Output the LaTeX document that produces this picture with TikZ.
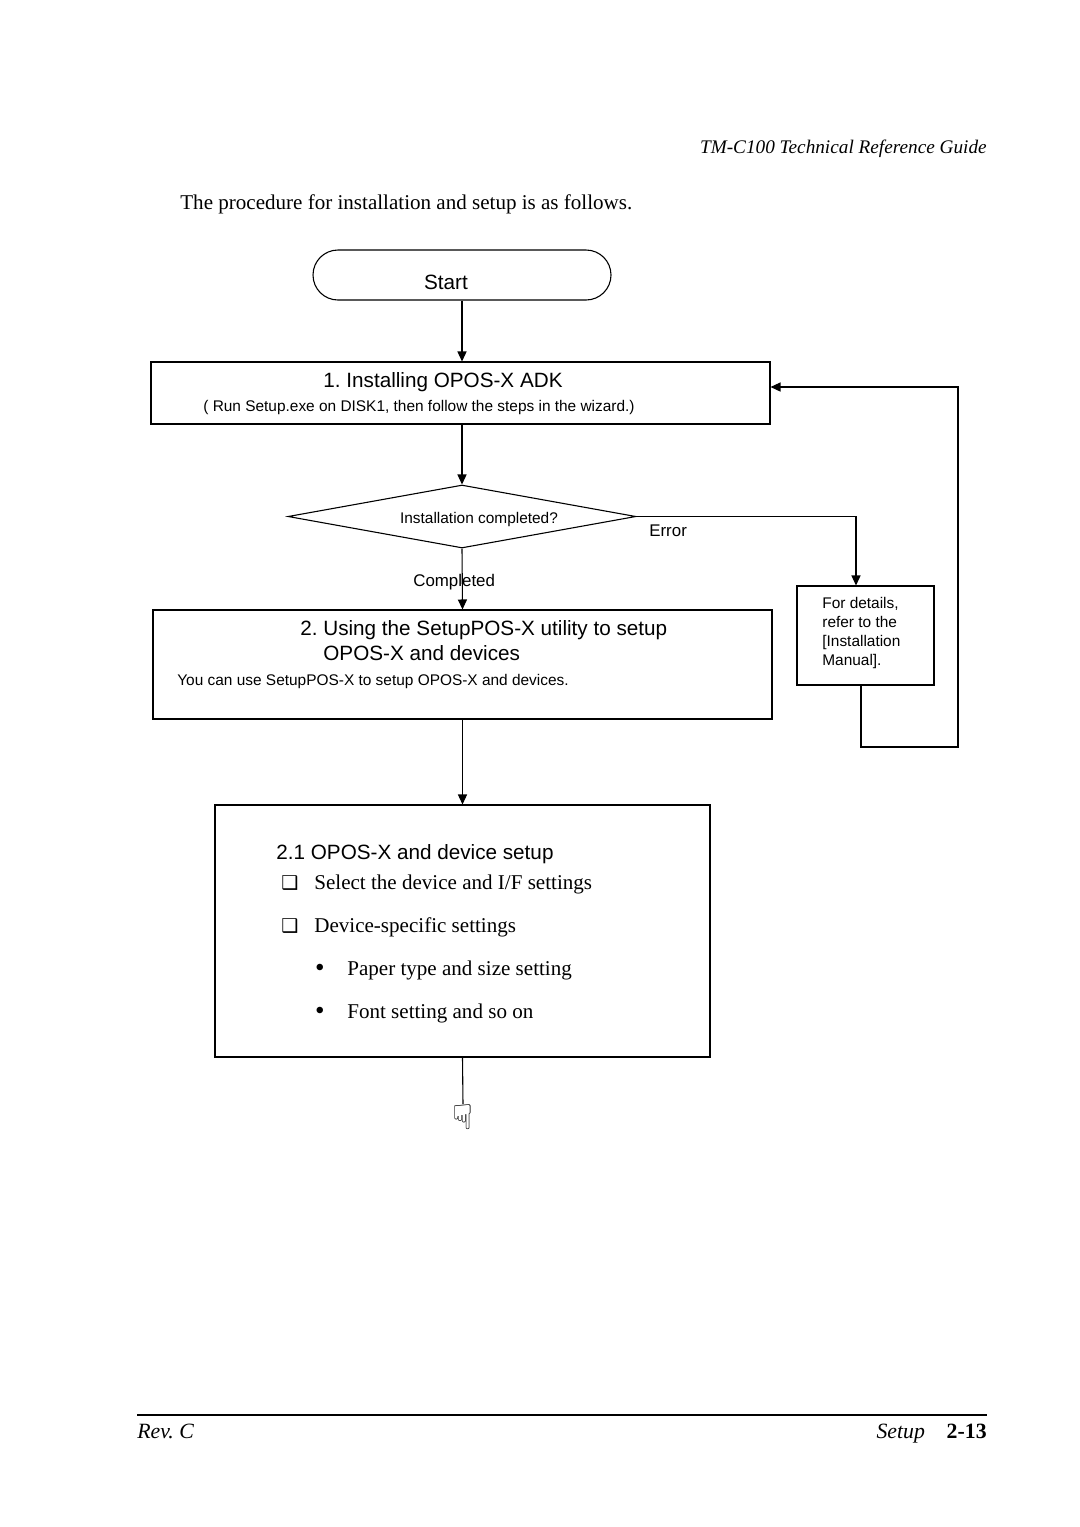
\documentclass[tikz,border=0pt]{standalone}
\usepackage{fontspec}
\setmainfont{Liberation Serif}
\setsansfont{Liberation Sans}
\newfontfamily\dingfont{DejaVu Sans}
\usetikzlibrary{arrows.meta,shapes.geometric,shapes.misc}
\frenchspacing
\newlength\pxu
\setlength\pxu{0.551pt}
\tikzset{
  flowline/.style={line width=0.6pt},
  flowarrow/.style={flowline,-{Triangle[length=5.5pt,width=5pt]}},
  stepbox/.style={draw,rectangle,line width=0.6pt,inner sep=0pt},
  titletext/.style={font=\sffamily\fontsize{11.4}{13}\selectfont,inner sep=0pt},
  smalltext/.style={font=\sffamily\fontsize{8.5}{10.45}\selectfont,inner sep=0pt},
  labeltext/.style={font=\sffamily\fontsize{9.3}{11}\selectfont,inner sep=0pt},
  bodytext/.style={font=\fontsize{11.6}{14}\selectfont,inner sep=0pt},
  tickbox/.style={anchor=base west,inner sep=0pt,font=\dingfont\fontsize{10.5}{10.5}\selectfont},
  dotmark/.style={anchor=base,inner sep=0pt,font=\fontsize{15}{15}\selectfont},
}

\begin{document}
\begin{tikzpicture}[x=\pxu,y=-\pxu]
\useasboundingbox (0,0) rectangle (1080,1527);

\node[bodytext,anchor=base east] (header) at (987,153) {\fontsize{10.6}{12}\selectfont\itshape TM-C100 Technical Reference Guide};
\node[bodytext,anchor=base west] (intro) at (180,209) {The procedure for installation and setup is as follows.};

\node[draw,rounded rectangle,line width=0.6pt,minimum width=298\pxu,minimum height=50\pxu,inner sep=0pt] (start) at (462,275) {};
\node[titletext,anchor=base] (starttxt) at (446,289) {Start};

\node[stepbox,minimum width=619\pxu,minimum height=62\pxu] (inst) at (460.5,393) {};
\node[titletext,anchor=base] (insttitle) at (443,387) {1. Installing OPOS-X ADK};
\node[smalltext,anchor=base] (instsub) at (419,411.5) {( Run Setup.exe on DISK1, then follow the steps in the wizard.)};

\node[draw,diamond,line width=0.6pt,minimum width=348\pxu,minimum height=63\pxu,inner sep=0pt] (check) at (462,516.5) {};
\node[smalltext,anchor=base] (checktxt) at (479,523.5) {Installation completed?};
\node[labeltext,anchor=base west] (errtxt) at (649,536) {Error};
\node[labeltext,anchor=base west] (oktxt) at (413,586) {Completed};

\node[stepbox,minimum width=137\pxu,minimum height=99\pxu] (note) at (865.5,635.5) {};
\node[smalltext,anchor=north west,align=left] (notetxt) at (822,597) {For details,\\refer to the\\{[}Installation\\Manual{]}.};

\node[stepbox,minimum width=619\pxu,minimum height=109\pxu] (util) at (462.5,664.5) {};
\node[titletext,anchor=base west] (utiltitle) at (300,635.5) {2. Using the SetupPOS-X utility to setup};
\node[titletext,anchor=base west] (utiltitleb) at (323,660.5) {OPOS-X and devices};
\node[smalltext,anchor=base west] (utilsub) at (177,685.5) {You can use SetupPOS-X to setup OPOS-X and devices.};

\node[stepbox,minimum width=495\pxu,minimum height=252\pxu] (devset) at (462.5,931) {};
\node[titletext,anchor=base west] (devtitle) at (276,859.5) {2.1 OPOS-X and device setup};
\node[tickbox] (boxa) at (281,889) {❑};
\node[bodytext,anchor=base west] (itema) at (314,889) {Select the device and I/F settings};
\node[tickbox] (boxb) at (281,932) {❑};
\node[bodytext,anchor=base west] (itemb) at (314,932) {Device-specific settings};
\node[dotmark] (dota) at (320,976) {•};
\node[bodytext,anchor=base west] (itemc) at (347,975) {Paper type and size setting};
\node[dotmark] (dotb) at (320,1019) {•};
\node[bodytext,anchor=base west] (itemd) at (347,1018) {Font setting and so on};

\node[inner sep=0pt,font=\dingfont\fontsize{19}{19}\selectfont] (hand) at (463,1117) {☟};

\coordinate (loopcorner) at (958,747);

\draw[flowarrow] (start.south) -- (start.south |- inst.north);
\draw[flowarrow] (check.north |- inst.south) -- (check.north);
\draw[flowarrow] (check.east) -| ([xshift=-9.5\pxu]note.north);
\draw[flowarrow] (check.south) -- (util.north);
\draw[flowarrow] ([xshift=-4.5\pxu]note.south) |- (loopcorner) |- ([yshift=6\pxu]inst.east);
\draw[flowarrow] (util.south) -- (devset.north);
\draw[flowline] (devset.south) -- (hand.north);

\coordinate (rulel) at (137,1415);
\coordinate (ruler) at (987,1415);
\draw[line width=0.8pt] (rulel) -- (ruler);
\node[bodytext,anchor=base west] (rev) at (137,1438) {\fontsize{12}{14}\selectfont\itshape Rev. C};
\node[bodytext,anchor=base east] (page) at (987,1438) {\fontsize{12}{14}\selectfont\itshape Setup\quad\upshape\bfseries 2-13};
\end{tikzpicture}
\end{document}
